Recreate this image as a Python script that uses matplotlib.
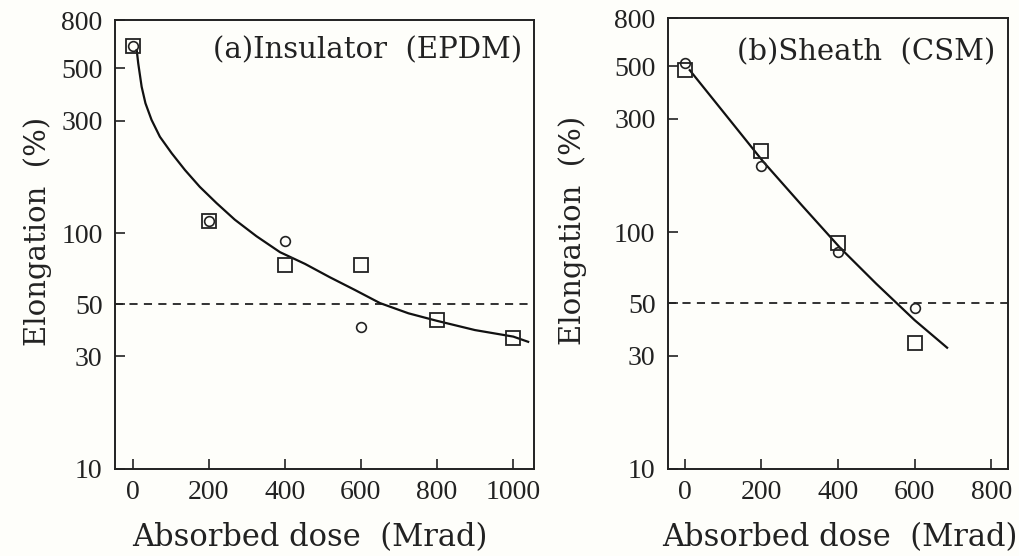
import matplotlib
matplotlib.use("Agg")
import matplotlib.pyplot as plt

plt.rcParams['font.family'] = ['Liberation Serif', 'DejaVu Serif']
lab_font = ['DejaVu Serif']
tick_font = ['Liberation Serif']

# (a) insulator, EPDM
dose_a = [0, 200, 400, 600, 800, 1000]
sq_a = [620, 112, 73, 73, 43, 36]
dose_a_c = [0, 200, 400, 600]
ci_a = [620, 112, 93, 40]
fit_a_x = [10, 14, 23, 33, 49, 71, 102, 137, 176, 220, 268, 325, 387,
           453, 518, 584, 650, 725, 799, 900, 1001, 1040]
fit_a_y = [597, 524, 417, 355, 302, 256, 218, 185, 157, 134, 114, 97, 83,
           74, 65, 57.4, 50.5, 45.7, 42.5, 38.8, 36.4, 34.6]

# (b) sheath, CSM
dose_b = [0, 200, 400, 600]
sq_b = [482, 220, 90, 34]
ci_b = [515, 190, 82, 48]
fit_b_x = [13, 109, 205, 305, 405, 500, 600, 685]
fit_b_y = [482, 309, 198, 130, 86, 60.5, 42.5, 32.5]

yticks = [10, 30, 50, 100, 300, 500, 800]
bg = '#fefefa'
ink = '#222222'

fig = plt.figure(figsize=(10.19, 5.56), dpi=100, facecolor=bg)
ax1 = fig.add_axes([0.1129, 0.1565, 0.411, 0.8075])
ax2 = fig.add_axes([0.6555, 0.1565, 0.3337, 0.811])


def style(ax, xlim, xticks, title, tx, ty, ylx, xlx):
    ax.set_facecolor(bg)
    ax.set_yscale('log')
    ax.set_ylim(10, 800)
    ax.set_xlim(*xlim)
    ax.set_yticks(yticks)
    ax.set_yticklabels([str(v) for v in yticks], family=tick_font)
    ax.yaxis.set_minor_locator(matplotlib.ticker.NullLocator())
    ax.set_xticks(xticks)
    ax.set_xticklabels([str(v) for v in xticks], family=tick_font)
    ax.tick_params(direction='in', length=7, width=1.2, labelsize=20,
                   colors=ink)
    ax.tick_params(axis='y', pad=9)
    ax.tick_params(axis='x', pad=8)
    for s in ax.spines.values():
        s.set_linewidth(1.4)
        s.set_color(ink)
    ax.axhline(50, color=ink, lw=1.3, dashes=(4.5, 3.5))
    xl = ax.set_xlabel('Absorbed dose  (Mrad)', fontsize=22, color=ink,
                       family=lab_font)
    xl.set_va('center')
    ax.xaxis.set_label_coords(xlx, -0.152)
    yl = ax.set_ylabel('Elongation  (%)', fontsize=21, color=ink,
                       family=lab_font)
    yl.set_va('center')
    ax.yaxis.set_label_coords(ylx, 0.53)
    ax.text(tx, ty, title, transform=ax.transAxes, ha='right', va='center',
            fontsize=21, color=ink, family=lab_font)


style(ax1, (-47, 1055), [0, 200, 400, 600, 800, 1000],
      '(a)Insulator  (EPDM)', 0.971, 0.933, -0.186, 0.465)
style(ax2, (-44, 844), [0, 200, 400, 600, 800],
      '(b)Sheath  (CSM)', 0.962, 0.925, -0.279, 0.506)

mk = dict(linestyle='none', markerfacecolor='none', markeredgecolor=ink)
ax1.plot(fit_a_x, fit_a_y, color='#111111', lw=1.6)
ax1.plot(dose_a, sq_a, marker='s', markersize=10, markeredgewidth=1.3, **mk)
ax1.plot(dose_a_c, ci_a, marker='o', markersize=7, markeredgewidth=1.2, **mk)

ax2.plot(fit_b_x, fit_b_y, color='#111111', lw=1.6)
ax2.plot(dose_b, sq_b, marker='s', markersize=10, markeredgewidth=1.3, **mk)
ax2.plot(dose_b, ci_b, marker='o', markersize=7, markeredgewidth=1.2, **mk)

fig.savefig('out.png', dpi=100, facecolor=bg)
